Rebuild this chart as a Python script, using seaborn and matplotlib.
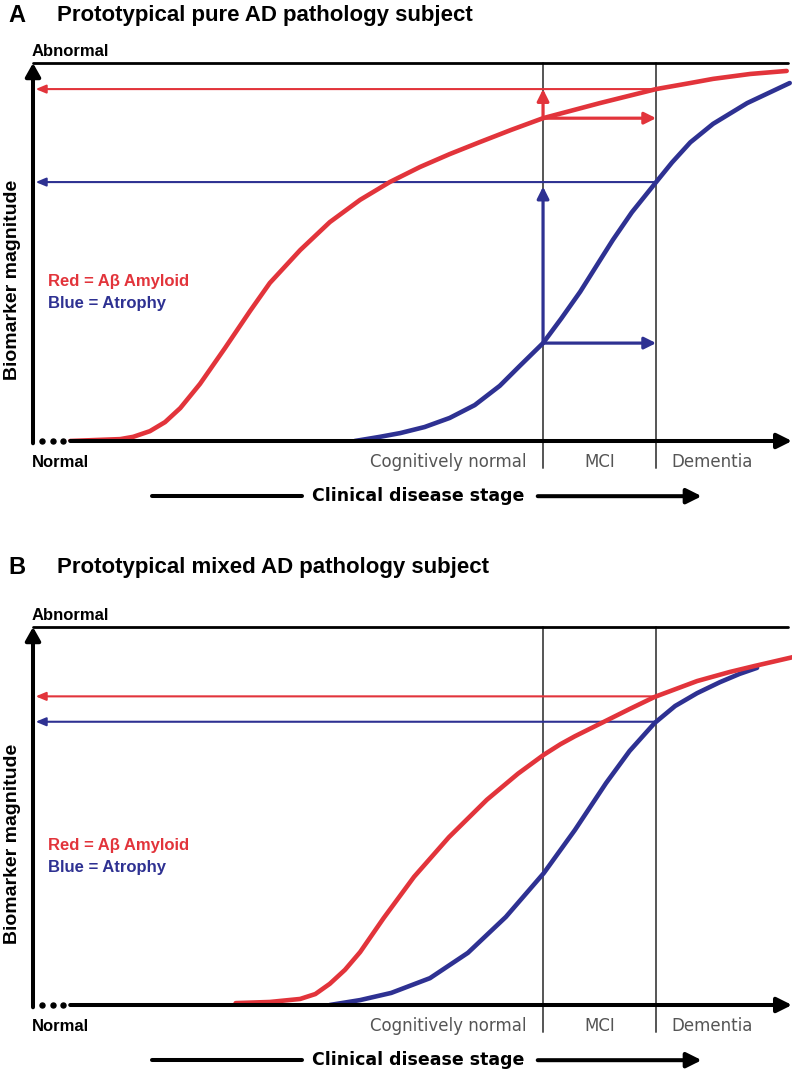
import numpy as np
import matplotlib
matplotlib.use("Agg")
import matplotlib.pyplot as plt
import seaborn as sns

# stage axis runs 0..100, biomarker magnitude 0 (normal) .. 1 (abnormal)
MCI_START = 67.2
DEMENTIA_START = 82.1

# panel A - pure AD pathology
stage_red_a = [4.9, 8.8, 11.5, 13.2, 15.4, 17.4, 19.4, 22.0, 25.3, 28.6, 31.2, 35.2,
               39.1, 43.1, 47.0, 51.0, 54.9, 58.9, 63.0, 67.2, 74.7, 82.1, 86.6, 89.6,
               94.5, 99.3]
amyloid_a = [0.0, 0.003, 0.005, 0.011, 0.026, 0.050, 0.087, 0.151, 0.246, 0.344, 0.418, 0.505,
             0.579, 0.638, 0.685, 0.725, 0.759, 0.791, 0.823, 0.854, 0.894, 0.931, 0.947, 0.958,
             0.971, 0.979]
stage_blue_a = [42.4, 45.7, 48.4, 51.6, 54.9, 58.2, 61.5, 64.1, 67.2, 69.6, 72.1, 74.7,
                76.4, 78.9, 82.1, 84.2, 86.6, 89.6, 94.1, 99.7]
atrophy_a = [0.0, 0.011, 0.021, 0.037, 0.061, 0.095, 0.146, 0.198, 0.259, 0.324, 0.395, 0.478,
             0.532, 0.605, 0.685, 0.737, 0.790, 0.839, 0.894, 0.947]

# panel B - mixed AD pathology
stage_red_b = [26.7, 31.2, 35.2, 37.2, 39.1, 41.1, 43.1, 46.2, 50.2, 54.8, 59.8, 63.9,
               67.3, 69.5, 71.4, 74.9, 78.6, 81.9, 87.5, 91.8, 95.1, 100.7]
amyloid_b = [0.005, 0.008, 0.016, 0.029, 0.056, 0.093, 0.140, 0.230, 0.339, 0.444, 0.543, 0.612,
             0.662, 0.690, 0.711, 0.746, 0.783, 0.815, 0.857, 0.881, 0.897, 0.923]
stage_blue_b = [39.1, 43.1, 47.2, 52.3, 57.3, 62.3, 67.3, 71.4, 75.5, 78.6, 81.9,
                84.6, 87.5, 90.5, 93.1, 95.4]
atrophy_b = [0.0, 0.013, 0.032, 0.071, 0.138, 0.233, 0.349, 0.463, 0.587, 0.672, 0.746,
             0.791, 0.825, 0.854, 0.876, 0.892]

stage_labels = ["Cognitively normal", "MCI", "Dementia"]
titles = ["Prototypical pure AD pathology subject", "Prototypical mixed AD pathology subject"]
letters = ["A", "B"]

RED = "#e2343b"
BLUE = "#2e3192"
GRAY = "#555555"

sns.set_style("white")
plt.rcParams["font.family"] = ["Liberation Sans", "DejaVu Sans"]
plt.rcParams["text.color"] = "black"

fig = plt.figure(figsize=(8, 10.73), dpi=100)


def px_rect(left, top, right, bottom):
    return [left / 800, 1 - bottom / 1073, (right - left) / 800, (bottom - top) / 1073]


def arrow(ax, start, end, color, lw, hl, hw, z=3):
    ax.annotate("", xy=end, xytext=start, annotation_clip=False, zorder=z,
                arrowprops=dict(arrowstyle=f"-|>,head_length={hl},head_width={hw}",
                                color=color, lw=lw, shrinkA=0, shrinkB=0,
                                mutation_scale=10))


def draw_panel(ax, red_x, red_y, blue_x, blue_y, steps):
    # frame
    ax.plot([0, 99.5], [1, 1], color="black", lw=2, clip_on=False, zorder=2)
    arrow(ax, (0, -0.006), (0, 1.0), "black", 2.9, 0.8, 0.45, z=5)
    arrow(ax, (4.9, 0), (100, 0), "black", 2.9, 0.9, 0.45, z=5)
    ax.plot([1.2, 2.6, 3.95], [0, 0, 0], "o", color="black", ms=3.6, clip_on=False)
    for s in (MCI_START, DEMENTIA_START):
        ax.plot([s, s], [1, -0.071], color=GRAY, lw=1.4, clip_on=False, zorder=1)

    # biomarker curves
    sns.lineplot(x=blue_x, y=blue_y, color=BLUE, lw=3.3, sort=False, ax=ax, zorder=4,
                 solid_capstyle="round", solid_joinstyle="round")
    sns.lineplot(x=red_x, y=red_y, color=RED, lw=3.3, sort=False, ax=ax, zorder=4,
                 solid_capstyle="round", solid_joinstyle="round")

    # levels reached at dementia onset
    red_dem = np.interp(DEMENTIA_START, red_x, red_y)
    blue_dem = np.interp(DEMENTIA_START, blue_x, blue_y)
    arrow(ax, (DEMENTIA_START, red_dem), (0.35, red_dem), RED, 1.5, 0.6, 0.25)
    arrow(ax, (DEMENTIA_START, blue_dem), (0.35, blue_dem), BLUE, 1.5, 0.6, 0.25)

    if steps:
        red_mci = np.interp(MCI_START, red_x, red_y)
        blue_mci = np.interp(MCI_START, blue_x, blue_y)
        arrow(ax, (MCI_START, red_mci), (MCI_START, red_dem), RED, 2.3, 0.7, 0.35)
        arrow(ax, (MCI_START, red_mci), (DEMENTIA_START, red_mci), RED, 2.3, 0.7, 0.35)
        arrow(ax, (MCI_START, blue_mci), (MCI_START, blue_dem - 0.012), BLUE, 2.3, 0.7, 0.35)
        arrow(ax, (MCI_START, blue_mci), (DEMENTIA_START, blue_mci), BLUE, 2.3, 0.7, 0.35)

    ax.set_xlim(0, 100)
    ax.set_ylim(0, 1)
    ax.axis("off")

    # text
    ax.text(-0.15, 1.03, "Abnormal", fontsize=12, weight="bold", va="center", ha="left")
    ax.text(-0.15, -0.056, "Normal", fontsize=12, weight="bold", va="center", ha="left")
    ax.text(-2.75, 0.426, "Biomarker magnitude", fontsize=14, weight="bold",
            rotation=90, va="center", ha="center")
    ax.text(2.0, 0.421, "Red = A\u03b2 Amyloid", fontsize=12, weight="bold", color=RED,
            va="center", ha="left")
    ax.text(2.0, 0.365, "Blue = Atrophy", fontsize=12, weight="bold", color=BLUE,
            va="center", ha="left")
    ax.text(MCI_START - 2.2, -0.056, stage_labels[0], fontsize=12, color=GRAY,
            family="DejaVu Sans", va="center", ha="right")
    ax.text((MCI_START + DEMENTIA_START) / 2, -0.056, stage_labels[1], fontsize=12,
            color=GRAY, family="DejaVu Sans", va="center", ha="center")
    ax.text(89.5, -0.056, stage_labels[2], fontsize=12, color=GRAY,
            family="DejaVu Sans", va="center", ha="center")

    # clinical disease stage arrow
    ax.plot([15.7, 35.4], [-0.146, -0.146], color="black", lw=2.9, clip_on=False,
            solid_capstyle="round")
    ax.text(50.7, -0.146, "Clinical disease stage", fontsize=12.5, weight="bold",
            family="DejaVu Sans", va="center", ha="center")
    arrow(ax, (66.5, -0.146), (88.1, -0.146), "black", 2.9, 0.9, 0.45)


ax_a = fig.add_axes(px_rect(33, 63, 792, 441))
ax_b = fig.add_axes(px_rect(33, 627, 792, 1005))

draw_panel(ax_a, stage_red_a, amyloid_a, stage_blue_a, atrophy_a, True)
draw_panel(ax_b, stage_red_b, amyloid_b, stage_blue_b, atrophy_b, False)

for letter, title, y in zip(letters, titles, [15, 567]):
    fig.text(8 / 800, 1 - y / 1073, letter, fontsize=17, weight="bold", va="center")
    fig.text(57 / 800, 1 - y / 1073, title, fontsize=16, weight="bold", va="center")

fig.savefig("out.png", dpi=100)
